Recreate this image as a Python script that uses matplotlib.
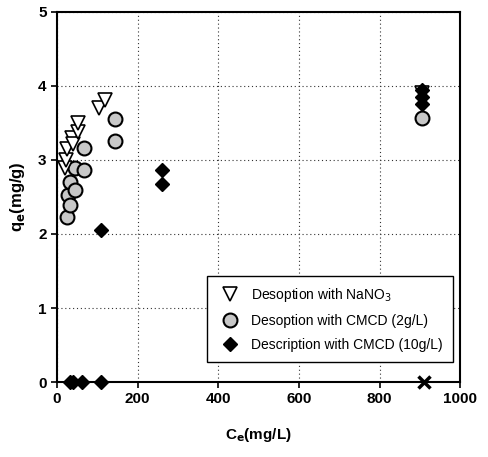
import numpy as np
import matplotlib.pyplot as plt

# NaNO3 desorption
ce_na = [20, 22, 25, 37, 40, 52, 52, 104, 118, 905]
qe_na = [2.89, 3.0, 3.15, 3.3, 3.22, 3.38, 3.5, 3.7, 3.81, 3.9]

# CMCD 2 g/L
ce_c2 = [25, 28, 32, 32, 44, 44, 67, 67, 143, 143, 905]
qe_c2 = [2.23, 2.52, 2.39, 2.7, 2.6, 2.89, 2.86, 3.16, 3.26, 3.55, 3.57]

# CMCD 10 g/L
ce_c10 = [32, 40, 61, 108, 110, 260, 260, 905, 905, 905]
qe_c10 = [0, 0, 0, 0, 2.05, 2.68, 2.86, 3.75, 3.85, 3.95]

ce_x = [910]
qe_x = [0]

plt.rcParams['font.family'] = ['Liberation Sans', 'DejaVu Sans']

fig = plt.figure(figsize=(4.88, 4.57), dpi=100)
ax = fig.add_axes([0.117, 0.164, 0.826, 0.81])

ax.grid(True, color='#333333', linestyle=(0, (1, 2.5)), linewidth=0.8)
ax.set_axisbelow(True)

ax.plot(ce_c10, qe_c10, linestyle='none', marker='D', color='black',
        markersize=7.5, label='Description with CMCD (10g/L)', zorder=6,
        clip_on=False)
ax.plot(ce_c2, qe_c2, linestyle='none', marker='o', markerfacecolor='#c8c8c8',
        markeredgecolor='black', markeredgewidth=1.5, markersize=10,
        label='Desoption with CMCD (2g/L)', zorder=4)
ax.plot(ce_na, qe_na, linestyle='none', marker='v', markerfacecolor='white',
        markeredgecolor='black', markeredgewidth=1.2, markersize=10,
        label='Desoption with NaNO$_3$', zorder=5)
ax.plot(ce_x, qe_x, linestyle='none', marker='x', color='black',
        markersize=8, markeredgewidth=2.5, zorder=6, clip_on=False)

ax.set_xlim(0, 1000)
ax.set_ylim(0, 5)
ax.set_xticks([0, 200, 400, 600, 800, 1000])
ax.set_yticks([0, 1, 2, 3, 4, 5])
ax.tick_params(direction='out', length=4, width=1.2, labelsize=11)
for lab in ax.get_xticklabels() + ax.get_yticklabels():
    lab.set_fontweight('bold')
for s in ax.spines.values():
    s.set_linewidth(1.5)

ax.set_xlabel('C$_\\mathbf{e}$(mg/L)', fontsize=11, fontweight='bold', labelpad=14)
ax.set_ylabel('q$_\\mathbf{e}$(mg/g)', fontsize=12, fontweight='bold', labelpad=8)

h, l = ax.get_legend_handles_labels()
leg = ax.legend(h[::-1], l[::-1], loc='lower right', bbox_to_anchor=(1.0, 0.035),
                frameon=True, fancybox=False, edgecolor='black',
                framealpha=1, handletextpad=0.6, handlelength=1.8,
                borderpad=0.75, labelspacing=0.7,
                prop={'family': ['Liberation Sans Narrow', 'Liberation Sans', 'DejaVu Sans'], 'size': 10})
leg.get_frame().set_linewidth(1.0)

fig.savefig('out.png', dpi=100)
